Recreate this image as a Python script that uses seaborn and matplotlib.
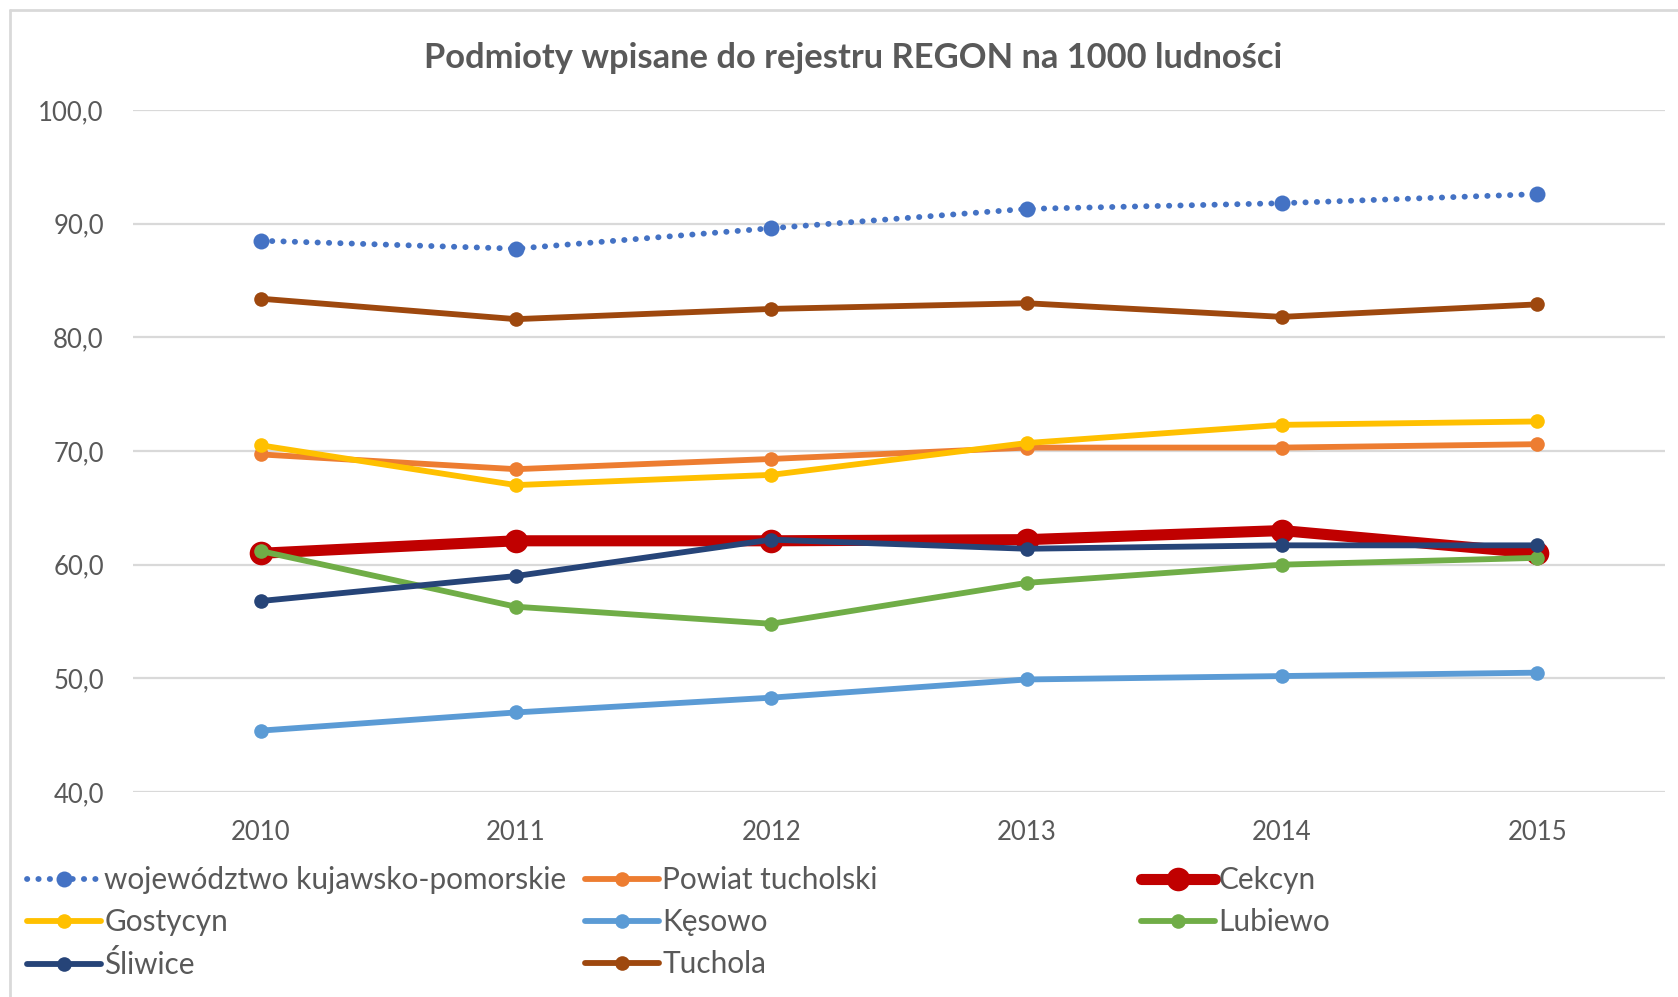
import matplotlib
matplotlib.use("Agg")
import matplotlib.pyplot as plt
from matplotlib.lines import Line2D
from matplotlib.ticker import FuncFormatter
import seaborn as sns
import pandas as pd

# --- data ---
years = [2010, 2011, 2012, 2013, 2014, 2015]
wojewodztwo = [88.5, 87.8, 89.6, 91.3, 91.8, 92.6]
powiat = [69.7, 68.4, 69.3, 70.3, 70.3, 70.6]
cekcyn = [61.0, 62.1, 62.1, 62.2, 63.0, 61.0]
gostycyn = [70.5, 67.0, 67.9, 70.7, 72.3, 72.6]
kesowo = [45.4, 47.0, 48.3, 49.9, 50.2, 50.5]
lubiewo = [61.2, 56.3, 54.8, 58.4, 60.0, 60.6]
sliwice = [56.8, 59.0, 62.2, 61.4, 61.7, 61.7]
tuchola = [83.4, 81.6, 82.5, 83.0, 81.8, 82.9]

series_names = ["województwo kujawsko-pomorskie", "Powiat tucholski", "Cekcyn",
                "Gostycyn", "Kęsowo", "Lubiewo", "Śliwice", "Tuchola"]
series_values = [wojewodztwo, powiat, cekcyn, gostycyn, kesowo, lubiewo, sliwice, tuchola]
colors = ["#4472C4", "#ED7D31", "#C00000", "#FFC000", "#5B9BD5", "#70AD47", "#264478", "#9E480E"]

title = "Podmioty wpisane do rejestru REGON na 1000 ludności"

# long-form table for seaborn
df = pd.DataFrame({
    "rok": years * len(series_names),
    "wartosc": [v for vals in series_values for v in vals],
    "seria": [n for n in series_names for _ in years],
})

sns.set_theme(style="white")
plt.rcParams['font.family'] = ['Lato', 'DejaVu Sans']

text_grey = "#595959"
grid_grey = "#D9D9D9"

fig = plt.figure(figsize=(16.78, 9.97), dpi=100)
ax = fig.add_axes([133 / 1678, 1 - 792 / 997, (1665 - 133) / 1678, (792 - 110) / 997])

for name, col in zip(series_names, colors):
    sub = df[df["seria"] == name]
    kw = dict(linewidth=4.2, markersize=10.5)
    if name == "Cekcyn":
        kw = dict(linewidth=8.0, markersize=17)
    if name.startswith("województwo"):
        kw = dict(linewidth=4.2, markersize=11.5, linestyle=(0, (0.05, 1.9)),
                  dash_capstyle="round")
    sns.lineplot(data=sub, x="rok", y="wartosc", ax=ax, color=col, marker="o",
                 markeredgecolor=col, markeredgewidth=0, label=name,
                 solid_capstyle="round", solid_joinstyle="round", **kw)

if ax.get_legend() is not None:
    ax.get_legend().remove()

ax.set_xlim(years[0] - 0.5, years[-1] + 0.5)
ax.set_ylim(40, 100)
ax.set_yticks(range(40, 101, 10))
ax.set_xticks(years)
ax.yaxis.set_major_formatter(FuncFormatter(lambda v, p: f"{v:.1f}".replace(".", ",")))
ax.grid(axis="y", color=grid_grey, linewidth=1.6)
ax.grid(axis="x", visible=False)
ax.set_axisbelow(True)
for s in ax.spines.values():
    s.set_visible(False)
ax.tick_params(axis="y", length=0, pad=21, labelsize=18.5, labelcolor=text_grey)
ax.tick_params(axis="x", length=0, pad=20, labelsize=18.5, labelcolor=text_grey)
ax.set_xlabel("")
ax.set_ylabel("")

fig.text(853 / 1678, 1 - 58 / 997, title, ha="center", va="center",
         fontsize=24.8, fontweight="bold", color=text_grey)

# legend laid out in three columns like the original
handles, labels = ax.get_legend_handles_labels()
lookup = dict(zip(labels, handles))
columns = [
    (27, ["województwo kujawsko-pomorskie", "Gostycyn", "Śliwice"]),
    (585, ["Powiat tucholski", "Kęsowo", "Tuchola"]),
    (1141, ["Cekcyn", "Lubiewo"]),
]
for x0, names in columns:
    leg = fig.legend([lookup[n] for n in names], names, loc="upper left",
                     bbox_to_anchor=(x0 / 1678, 1 - 866 / 997), frameon=False,
                     fontsize=21.4, handlelength=2.5, handletextpad=0.1,
                     labelspacing=0.47, borderpad=0, borderaxespad=0, numpoints=1)
    for t in leg.get_texts():
        t.set_color(text_grey)

# thin chart border (top and left edges visible in the original)
fig.add_artist(Line2D([10 / 1678, 10 / 1678], [0, 1 - 10 / 997], color=grid_grey, linewidth=2))
fig.add_artist(Line2D([10 / 1678, 1], [1 - 10 / 997, 1 - 10 / 997], color=grid_grey, linewidth=2))

fig.savefig("out.png", dpi=100, facecolor="white")
